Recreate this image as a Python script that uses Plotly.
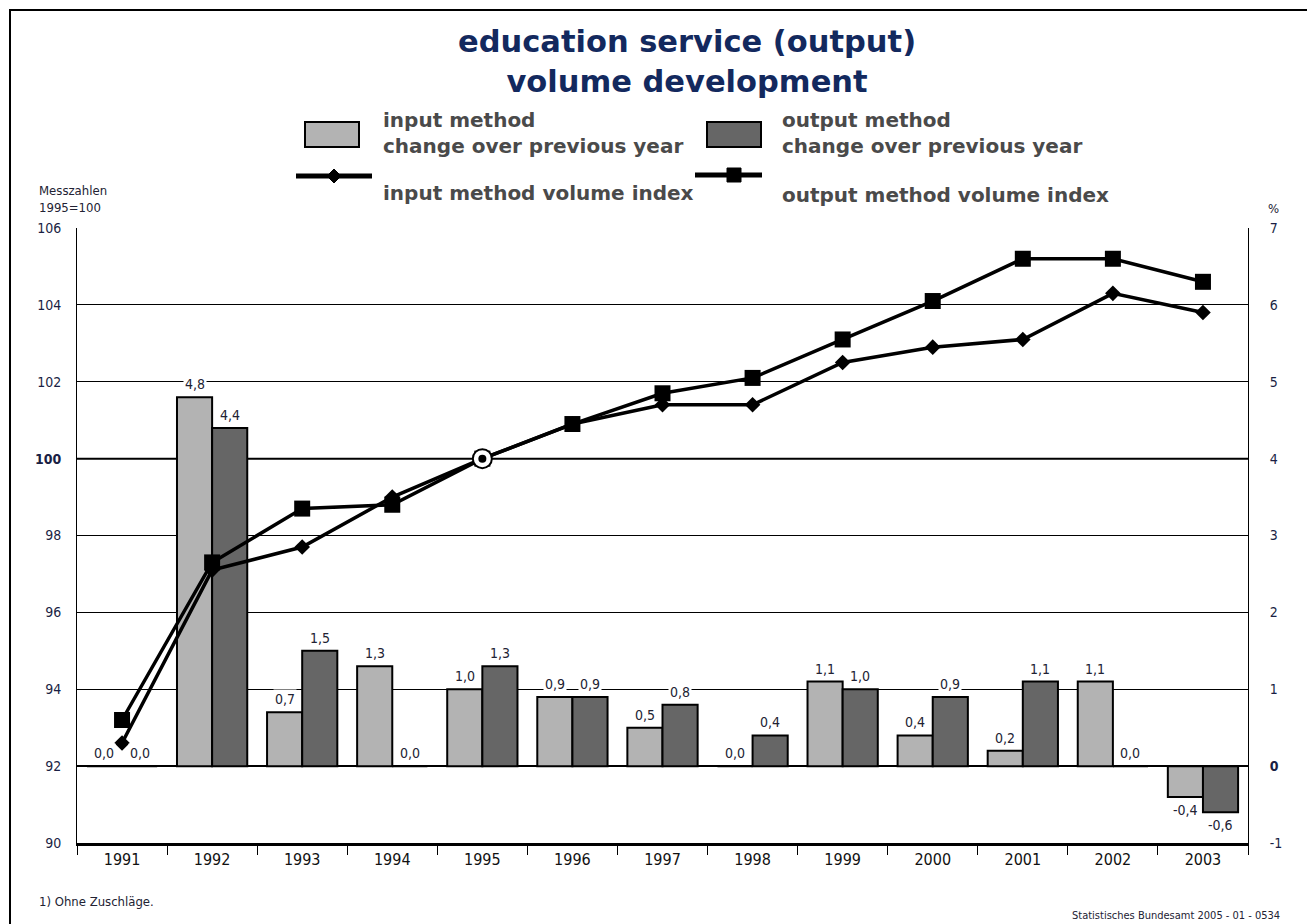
import plotly.graph_objects as go

# ---------------- data ----------------
YEARS = ["1991", "1992", "1993", "1994", "1995", "1996", "1997",
         "1998", "1999", "2000", "2001", "2002", "2003"]
INPUT_CHANGE = [0.0, 4.8, 0.7, 1.3, 1.0, 0.9, 0.5, 0.0, 1.1, 0.4, 0.2, 1.1, -0.4]
OUTPUT_CHANGE = [0.0, 4.4, 1.5, 0.0, 1.3, 0.9, 0.8, 0.4, 1.0, 0.9, 1.1, 0.0, -0.6]
INPUT_INDEX = [92.6, 97.1, 97.7, 99.0, 100.0, 100.9, 101.4, 101.4, 102.5, 102.9, 103.1, 104.3, 103.8]
OUTPUT_INDEX = [93.2, 97.3, 98.7, 98.8, 100.0, 100.9, 101.7, 102.1, 103.1, 104.1, 105.2, 105.2, 104.6]
BASE_YEAR = "1995"
BASE_INDEX = 100

LEFT_TICKS = [90, 92, 94, 96, 98, 100, 102, 104, 106]
RIGHT_TICKS = [-1, 0, 1, 2, 3, 4, 5, 6, 7]

TITLE = "education service (output)<br>volume development"
LEG_INPUT_BAR = "input method<br>change over previous year"
LEG_OUTPUT_BAR = "output method<br>change over previous year"
LEG_INPUT_LINE = "input method volume index"
LEG_OUTPUT_LINE = "output method volume index"

# ---------------- layout geometry ----------------
W, H = 1307, 924
L, R, T, B = 77, 1248, 228, 843
PW, PH = R - L, B - T


def px(x):
    return (x - L) / PW


def py(y):
    return (B - y) / PH


LIGHT = "#b3b3b3"
DARK = "#666666"
NAVY = "#13295e"
TXT = "#222233"
LABEL_FONT = "DejaVu Sans Condensed, DejaVu Sans, sans-serif"
BOLD_FONT = "DejaVu Sans, Verdana, sans-serif"
BARGAP = 0.22

fig = go.Figure()

fig.add_trace(go.Bar(x=YEARS, y=INPUT_CHANGE, name=LEG_INPUT_BAR, yaxis="y",
                     marker=dict(color=LIGHT, line=dict(color="black", width=2)),
                     offsetgroup="a", showlegend=False, hoverinfo="x+y"))
fig.add_trace(go.Bar(x=YEARS, y=OUTPUT_CHANGE, name=LEG_OUTPUT_BAR, yaxis="y",
                     marker=dict(color=DARK, line=dict(color="black", width=2)),
                     offsetgroup="b", showlegend=False, hoverinfo="x+y"))

fig.add_trace(go.Scatter(x=YEARS, y=INPUT_INDEX, name=LEG_INPUT_LINE, yaxis="y2",
                         mode="lines+markers",
                         line=dict(color="black", width=3.5),
                         marker=dict(symbol="diamond", size=12, color="black"),
                         showlegend=False))
fig.add_trace(go.Scatter(x=YEARS, y=OUTPUT_INDEX, name=LEG_OUTPUT_LINE, yaxis="y2",
                         mode="lines+markers",
                         line=dict(color="black", width=3.5),
                         marker=dict(symbol="square", size=16, color="black"),
                         showlegend=False))

bi = YEARS.index(BASE_YEAR)
fig.add_trace(go.Scatter(x=[YEARS[bi]], y=[INPUT_INDEX[bi]], yaxis="y2", mode="markers",
                         marker=dict(symbol="circle", size=19, color="white",
                                     line=dict(color="black", width=2)),
                         showlegend=False, hoverinfo="skip"))
fig.add_trace(go.Scatter(x=[YEARS[bi]], y=[INPUT_INDEX[bi]], yaxis="y2", mode="markers",
                         marker=dict(symbol="circle", size=8, color="black"),
                         showlegend=False, hoverinfo="skip"))

# bar value labels (category axis -> annotation x is the category's serial number)
half = 90 * (1 - BARGAP) / 4
annotations = []
for vals, sh in ((INPUT_CHANGE, -half), (OUTPUT_CHANGE, half)):
    for i, v in enumerate(vals):
        annotations.append(dict(
            x=i, y=v, xref="x", yref="y", xshift=sh,
            yshift=(-13 if v < 0 else 13), yanchor="middle",
            text=f"{v:.1f}".replace(".", ","), showarrow=False,
            font=dict(family=LABEL_FONT, size=14, color=TXT),
            bgcolor="white", borderpad=1))

# title
annotations.append(dict(x=px(687), y=py(62), xref="paper", yref="paper",
                        text=f"<b>{TITLE}</b>", showarrow=False,
                        font=dict(family=BOLD_FONT, size=30.5, color=NAVY),
                        xanchor="center", yanchor="middle"))

# manual legend text
legfont = dict(family=BOLD_FONT, size=20, color="#4a4a4a")
for txt, x, y in ((LEG_INPUT_BAR, 381, 133), (LEG_OUTPUT_BAR, 780, 133),
                  (LEG_INPUT_LINE, 381, 193), (LEG_OUTPUT_LINE, 780, 195)):
    annotations.append(dict(x=px(x), y=py(y), xref="paper", yref="paper",
                            text=f"<b>{txt}</b>", showarrow=False, align="left",
                            font=legfont, xanchor="left", yanchor="middle"))

# axis captions
annotations.append(dict(x=px(37), y=py(199), xref="paper", yref="paper",
                        text="Messzahlen<br>1995=100", showarrow=False, align="left",
                        font=dict(family=LABEL_FONT, size=13, color=TXT),
                        xanchor="left", yanchor="middle"))
annotations.append(dict(x=px(1273), y=py(209), xref="paper", yref="paper",
                        text="%", showarrow=False,
                        font=dict(family=LABEL_FONT, size=13, color=TXT),
                        xanchor="center", yanchor="middle"))
# footnotes
annotations.append(dict(x=px(37), y=py(901), xref="paper", yref="paper",
                        text="1) Ohne Zuschläge.", showarrow=False,
                        font=dict(family=LABEL_FONT, size=13, color=TXT),
                        xanchor="left", yanchor="middle"))
annotations.append(dict(x=px(1070), y=py(915), xref="paper", yref="paper",
                        text="Statistisches Bundesamt 2005 - 01 - 0534", showarrow=False,
                        font=dict(family=LABEL_FONT, size=11, color=TXT),
                        xanchor="left", yanchor="middle"))

shapes = []
# outer frame
shapes.append(dict(type="rect", xref="paper", yref="paper",
                   x0=px(10), x1=px(1400), y0=py(1000), y1=py(10),
                   line=dict(color="black", width=2), fillcolor="rgba(0,0,0,0)",
                   layer="below"))
# base-year reference line
shapes.append(dict(type="line", xref="paper", yref="y2", x0=0, x1=1,
                   y0=BASE_INDEX, y1=BASE_INDEX, line=dict(color="black", width=2),
                   layer="below"))
# legend symbols
shapes.append(dict(type="rect", xref="paper", yref="paper",
                   x0=px(305), x1=px(359), y0=py(147), y1=py(122),
                   fillcolor=LIGHT, line=dict(color="black", width=2)))
shapes.append(dict(type="rect", xref="paper", yref="paper",
                   x0=px(707), x1=px(761), y0=py(147), y1=py(122),
                   fillcolor=DARK, line=dict(color="black", width=2)))
shapes.append(dict(type="line", xref="paper", yref="paper",
                   x0=px(296), x1=px(372), y0=py(176), y1=py(176),
                   line=dict(color="black", width=5)))
shapes.append(dict(type="path", xref="paper", yref="paper",
                   path=(f"M {px(334)},{py(169)} L {px(341)},{py(176)} "
                         f"L {px(334)},{py(183)} L {px(327)},{py(176)} Z"),
                   fillcolor="black", line=dict(color="black", width=1)))
shapes.append(dict(type="line", xref="paper", yref="paper",
                   x0=px(695), x1=px(762), y0=py(175), y1=py(175),
                   line=dict(color="black", width=5)))
shapes.append(dict(type="rect", xref="paper", yref="paper",
                   x0=px(727), x1=px(741), y0=py(182), y1=py(168),
                   fillcolor="black", line=dict(color="black", width=1)))

fig.update_layout(
    width=W, height=H,
    margin=dict(l=L, r=W - R, t=T, b=H - B),
    paper_bgcolor="white", plot_bgcolor="white",
    barmode="group", bargap=BARGAP, bargroupgap=0,
    showlegend=False,
    xaxis=dict(type="category", categoryorder="array", categoryarray=YEARS,
               range=[-0.5, len(YEARS) - 0.5], autorange=False,
               tickson="boundaries", ticks="outside", ticklen=9,
               tickcolor="black", tickwidth=1, tickangle=0,
               showline=True, linecolor="black", linewidth=3,
               showgrid=False,
               tickfont=dict(family=LABEL_FONT, size=16, color="#111111")),
    yaxis=dict(side="right", range=[-1, 7], tickvals=RIGHT_TICKS,
               ticktext=[("<b>0</b>" if t == 0 else str(t)) for t in RIGHT_TICKS],
               showgrid=True, gridcolor="black", gridwidth=1,
               zeroline=True, zerolinecolor="black", zerolinewidth=2,
               showline=True, linecolor="black", linewidth=1,
               ticks="", ticklabelstandoff=18,
               tickfont=dict(family=LABEL_FONT, size=14, color="#1a1f44")),
    yaxis2=dict(side="left", overlaying="y", range=[90, 106], tickvals=LEFT_TICKS,
                ticktext=[("<b>100</b>" if t == 100 else str(t)) for t in LEFT_TICKS],
                showgrid=False, zeroline=False,
                showline=True, linecolor="black", linewidth=1,
                ticks="", ticklabelstandoff=12,
                tickfont=dict(family=LABEL_FONT, size=14, color="#1a1f44")),
    annotations=annotations,
    shapes=shapes,
)

fig.write_html("out.html")
